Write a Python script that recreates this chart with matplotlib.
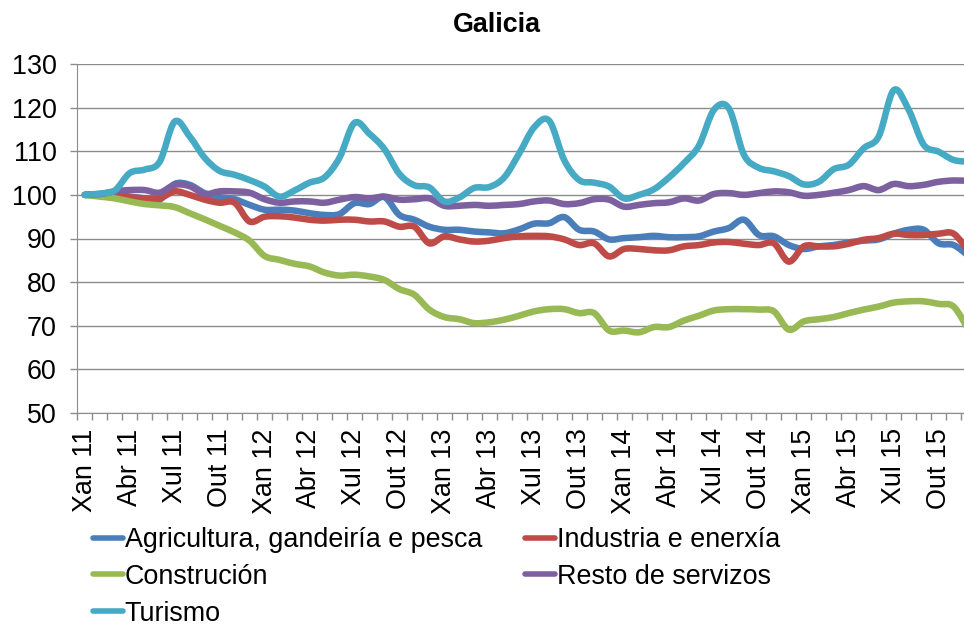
import numpy as np
import matplotlib
matplotlib.use("Agg")
import matplotlib.pyplot as plt
from matplotlib.ticker import FixedLocator
from matplotlib.path import Path
from matplotlib.patches import PathPatch
from matplotlib.lines import Line2D

plt.rcParams['font.family'] = ['Liberation Sans', 'DejaVu Sans']

# months Xan 11 .. Dec 15 (60 months), label every 3 months
meses = ['Xan', 'Feb', 'Mar', 'Abr', 'Mai', 'Xuñ', 'Xul', 'Ago', 'Set', 'Out', 'Nov', 'Dec']
anos = ['11', '12', '13', '14', '15']
categorias = [m + ' ' + a for a in anos for m in meses]

agricultura = [100, 100, 100, 99.6, 99.2, 98.9, 102.5, 102.3, 100.4, 99.5,
               99, 97.7, 96.6, 96.6, 96.4, 95.8, 95.4, 95.6, 98.1, 97.9,
               99.5, 95.4, 94.3, 92.7, 92, 92, 91.6, 91.4, 91.2, 92.1,
               93.4, 93.5, 94.9, 92, 91.6, 89.8, 90.1, 90.3, 90.6, 90.3,
               90.3, 90.5, 91.6, 92.4, 94.3, 90.8, 90.5, 88.5, 87.6, 88.2,
               88.5, 89.1, 89.5, 89.8, 91.1, 92, 92, 88.9, 88.5, 86]
industria = [100, 100, 99.8, 99.5, 99.2, 99.2, 100.8, 100, 98.9, 98.2,
             98.2, 93.9, 95, 95.1, 94.8, 94.3, 94.1, 94.3, 94.3, 93.9,
             93.9, 92.7, 92.7, 88.9, 90.5, 89.8, 89.3, 89.5, 90.1, 90.5,
             90.6, 90.5, 89.8, 88.5, 88.9, 85.9, 87.6, 87.6, 87.3, 87.3,
             88.2, 88.5, 89.1, 89.2, 88.8, 88.5, 88.9, 84.7, 88.2, 88.2,
             88.2, 88.8, 89.7, 90.1, 91.1, 90.8, 90.8, 91.1, 91.1, 87]
construcion = [100, 99.6, 99.2, 98.5, 97.9, 97.6, 97.2, 95.8, 94.4, 92.9,
               91.4, 89.5, 86, 85.1, 84.2, 83.6, 82.2, 81.5, 81.7, 81.3,
               80.5, 78.4, 77.1, 73.7, 72, 71.5, 70.6, 70.8, 71.4, 72.3,
               73.3, 73.8, 73.8, 72.9, 72.9, 68.9, 68.9, 68.5, 69.7, 69.7,
               71.2, 72.3, 73.5, 73.8, 73.8, 73.7, 73.3, 69.1, 71, 71.5,
               72, 72.9, 73.7, 74.4, 75.3, 75.6, 75.6, 75, 74.4, 69]
resto = [100, 100.2, 100.8, 101.1, 101.1, 100.5, 102.3, 102, 100.2, 100.8,
         100.8, 100.5, 99, 98.2, 98.5, 98.5, 98.2, 98.9, 99.5, 99.2,
         99.6, 98.9, 99, 99.2, 97.5, 97.5, 97.7, 97.5, 97.7, 97.9,
         98.5, 98.7, 97.9, 98.1, 99, 98.9, 97.3, 97.7, 98.1, 98.3,
         99.2, 98.7, 100.2, 100.4, 100, 100.4, 100.8, 100.6, 99.8, 100,
         100.5, 101.1, 102, 101.1, 102.5, 102, 102.3, 103, 103.3, 103.2]
turismo = [100, 100.3, 101, 105, 105.8, 107.6, 116.8, 113.4, 108.5, 105.5,
           104.6, 103.4, 101.9, 99.6, 101, 102.8, 104, 108.5, 116.5, 114,
           110.5, 104.8, 102.2, 101.7, 98.5, 99.4, 101.6, 101.8, 104, 109.5,
           115.5, 117, 108, 103.4, 102.8, 101.9, 99.2, 100, 101.3, 104,
           107.3, 111.3, 119.5, 119.8, 109.2, 106.2, 105.4, 104.3, 102.4, 103,
           105.9, 106.9, 110.7, 113.4, 124, 119.5, 111.5, 109.9, 108, 107.6]

series = [
    ('Agricultura, gandeiría e pesca', agricultura, '#4A7EBB'),
    ('Industria e enerxía', industria, '#BE4B48'),
    ('Construción', construcion, '#98B954'),
    ('Resto de servizos', resto, '#7D60A0'),
    ('Turismo', turismo, '#46AAC5'),
]


def smooth_path(xs, ys):
    # Excel-like smoothed line: cubic Bezier segments through every data point
    p = np.column_stack([xs, ys]).astype(float)
    verts = [p[0]]
    codes = [Path.MOVETO]
    for i in range(len(p) - 1):
        p0 = p[i - 1] if i > 0 else p[i]
        p3 = p[i + 2] if i + 2 < len(p) else p[i + 1]
        c1 = p[i] + (p[i + 1] - p0) / 6
        c2 = p[i + 1] - (p3 - p[i]) / 6
        verts += [c1, c2, p[i + 1]]
        codes += [Path.CURVE4] * 3
    return Path(verts, codes)


W, H = 964, 626
fig = plt.figure(figsize=(W / 100, H / 100), dpi=100)
n = len(categorias)
step = 14.98
ax = fig.add_axes([77.3 / W, 1 - 413 / H, n * step / W, (413 - 64) / H])

x = np.arange(n)
handles = {}
for nome, vals, cor in series:
    patch = PathPatch(smooth_path(x, vals), facecolor='none', edgecolor=cor,
                      lw=4.7, capstyle='round', joinstyle='round', zorder=3)
    ax.add_patch(patch)
    handles[nome] = Line2D([], [], color=cor, lw=4.0, solid_capstyle='round')

ax.set_xlim(-0.5, n - 0.5)
ax.set_ylim(50, 130)
ax.set_yticks(range(50, 131, 10))
ax.yaxis.grid(True, color='#8C8C8C', lw=1.0)
ax.set_axisbelow(True)

ax.set_xticks(x[::3])
ax.set_xticklabels(categorias[::3], rotation=90, fontsize=19.4)
ax.xaxis.set_minor_locator(FixedLocator(np.arange(-0.5, n, 1)))
ax.tick_params(axis='x', which='major', length=0, pad=11)
ax.tick_params(axis='x', which='minor', length=5, color='#8C8C8C', width=1)
ax.tick_params(axis='y', length=5, color='#8C8C8C', width=1, labelsize=19.4, pad=10)

for s in ['top', 'right']:
    ax.spines[s].set_visible(False)
ax.spines['left'].set_color('#8C8C8C')
ax.spines['bottom'].set_color('#8C8C8C')

fig.text(497 / W, 1 - 25 / H, 'Galicia', ha='center', va='center',
         fontsize=19.4, fontweight='bold')

order = ['Agricultura, gandeiría e pesca', 'Construción', 'Turismo',
         'Industria e enerxía', 'Resto de servizos']
fig.legend([handles[k] for k in order], order, ncol=2, loc='upper left',
           bbox_to_anchor=(93 / W, 1 - 527 / H), frameon=False,
           fontsize=19.4, handlelength=1.1, handletextpad=0.08,
           columnspacing=1.6, labelspacing=0.40, borderpad=0,
           borderaxespad=0)

fig.savefig('out.png', dpi=100)
